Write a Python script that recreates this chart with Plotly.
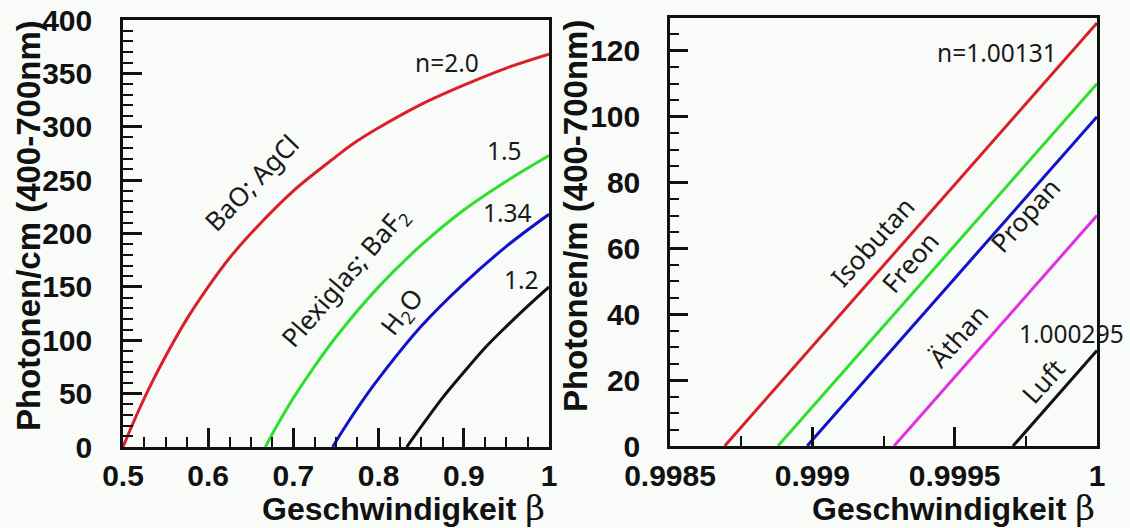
import plotly.graph_objects as go

W, H = 1130, 528

# ---- data ----
beta_n20 = [0.5, 0.51, 0.52, 0.53, 0.55, 0.575, 0.6, 0.625, 0.65, 0.7, 0.75, 0.77, 0.8, 0.85, 0.9, 0.95, 1.0]
phot_n20 = [0, 19, 37, 54, 85, 120, 150, 177, 200, 240, 272, 284, 299, 321, 339, 355, 368]

beta_n15 = [0.667, 0.68, 0.7, 0.72, 0.75, 0.8, 0.85, 0.9, 0.95, 1.0]
phot_n15 = [0, 19, 46, 70, 103, 150, 189, 222, 249, 273]

beta_n134 = [0.746, 0.76, 0.78, 0.8, 0.85, 0.9, 0.95, 1.0]
phot_n134 = [0, 18, 42, 64, 113, 153, 188, 218]

beta_n12 = [0.833, 0.85, 0.875, 0.9, 0.925, 0.95, 0.975, 1.0]
phot_n12 = [0, 19, 46, 70, 93, 113, 132, 150]

beta_iso = [0.998692, 0.999, 0.9995, 1.0]
phot_iso = [0, 30.3, 79.4, 128.5]
beta_freon = [0.998879, 0.999, 0.9995, 1.0]
phot_freon = [0, 11.8, 60.9, 110]
beta_propan = [0.998982, 0.999, 0.9995, 1.0]
phot_propan = [0, 1.8, 50.9, 100]
beta_athan = [0.999287, 0.9995, 0.99975, 1.0]
phot_athan = [0, 20.9, 45.5, 70]
beta_luft = [0.999705, 0.99985, 1.0]
phot_luft = [0, 14.2, 29]

left_yticks = [0, 50, 100, 150, 200, 250, 300, 350, 400]
left_xticks = [0.5, 0.6, 0.7, 0.8, 0.9, 1.0]
left_xticklabels = ["0.5", "0.6", "0.7", "0.8", "0.9", "1"]
right_yticks = [0, 20, 40, 60, 80, 100, 120]
right_xticks = [0.9985, 0.999, 0.9995, 1.0]
right_xticklabels = ["0.9985", "0.999", "0.9995", "1"]

RED, GREEN, BLUE, BLACK, MAG = "#d9202a", "#2ee02e", "#1212cc", "#111111", "#e030e0"
BG = "#f9fbf8"


def px(x):
    return x / W


def py(y):
    return 1 - y / H


fig = go.Figure()
for xs, ys, c in [(beta_n20, phot_n20, RED), (beta_n15, phot_n15, GREEN),
                  (beta_n134, phot_n134, BLUE), (beta_n12, phot_n12, BLACK)]:
    fig.add_trace(go.Scatter(x=xs, y=ys, mode="lines", line=dict(color=c, width=3, shape="spline"),
                             xaxis="x", yaxis="y", showlegend=False, hoverinfo="skip"))
for xs, ys, c in [(beta_iso, phot_iso, RED), (beta_freon, phot_freon, GREEN),
                  (beta_propan, phot_propan, BLUE), (beta_athan, phot_athan, MAG),
                  (beta_luft, phot_luft, BLACK)]:
    fig.add_trace(go.Scatter(x=xs, y=ys, mode="lines", line=dict(color=c, width=3),
                             xaxis="x2", yaxis="y2", showlegend=False, hoverinfo="skip"))

tickfont = dict(family="Liberation Sans, Arial, sans-serif", size=30, color="#111", weight="bold")
common = dict(showline=True, linecolor="#111", linewidth=2.5, mirror=True, showgrid=False,
              zeroline=False, ticks="inside", tickcolor="#111", tickwidth=2.5, tickfont=tickfont,
              automargin=False)

fig.update_layout(
    width=W, height=H, margin=dict(l=0, r=0, t=0, b=0, autoexpand=False),
    paper_bgcolor=BG, plot_bgcolor=BG,
    xaxis=dict(domain=[px(123), px(549)], range=[0.5, 1.0], tickvals=left_xticks,
               ticktext=left_xticklabels, ticklen=19, ticklabelstandoff=0,
               minor=dict(ticks="inside", dtick=0.025, ticklen=10, tickwidth=2, tickcolor="#111"),
               anchor="y", **common),
    yaxis=dict(domain=[py(447), py(20)], range=[0, 400], tickvals=left_yticks, ticklen=19,
               ticklabelstandoff=22,
               minor=dict(ticks="inside", dtick=10, ticklen=10, tickwidth=2, tickcolor="#111"),
               anchor="x", **common),
    xaxis2=dict(domain=[px(670), px(1097)], range=[0.9985, 1.0], tickvals=right_xticks,
                ticktext=right_xticklabels, ticklen=19, ticklabelstandoff=1,
                minor=dict(ticks="inside", dtick=0.00025, ticklen=10, tickwidth=2, tickcolor="#111"),
                anchor="y2", **common),
    yaxis2=dict(domain=[py(446), py(18)], range=[0, 130], tickvals=right_yticks, ticklen=18,
                ticklabelstandoff=21,
                minor=dict(ticks="inside", dtick=5, ticklen=9, tickwidth=2, tickcolor="#111"),
                anchor="x2", **common),
)

ytitlefont = dict(family="Liberation Sans, Arial, sans-serif", size=33, color="#111", weight="bold")
xtitlefont = dict(family="Liberation Sans, Arial, sans-serif", size=32, color="#111", weight="bold")
beta_span = "<span style='font-family:DejaVu Serif, serif;font-weight:normal;font-size:34px'>β</span>"
annots = [
    dict(x=px(29), y=py(226), text="Photonen/cm (400-700nm)", textangle=-90, font=ytitlefont),
    dict(x=px(575), y=py(216), text="Photonen/m (400-700nm)", textangle=-90, font=ytitlefont),
    dict(x=px(547), y=py(508), text="Geschwindigkeit " + beta_span, xanchor="right", font=xtitlefont),
    dict(x=px(1097), y=py(508), text="Geschwindigkeit " + beta_span, xanchor="right", font=xtitlefont),
]
hf = dict(family="Noto Sans, DejaVu Sans, sans-serif", size=24.5, color="#1a1a1a")
rf = dict(family="Noto Sans, DejaVu Sans, sans-serif", size=26, color="#1a1a1a")
labels = [
    ("n=2.0", 447, 62, 0, hf), ("1.5", 504, 150, 0, hf), ("1.34", 507, 213, 0, hf), ("1.2", 521, 279, 0, hf),
    ("BaO; AgCl", 251, 183, -46, rf), ("Plexiglas; BaF<sub>2</sub>", 345, 277, -49, rf),
    ("H<sub>2</sub>O", 402, 312, -52, rf),
    ("n=1.00131", 997, 53, 0, hf), ("1.000295", 1071, 333, 0, hf),
    ("Isobutan", 872, 242, -48, rf), ("Freon", 910, 262, -49, rf), ("Propan", 1025, 215, -48, rf),
    ("Äthan", 958, 336, -48, rf), ("Luft", 1043, 381, -48, rf),
]
for t, x, y, a, f in labels:
    annots.append(dict(x=px(x), y=py(y), text=t, textangle=a, font=f))
for a in annots:
    a.update(xref="paper", yref="paper", showarrow=False)
    a.setdefault("xanchor", "center")
    a.setdefault("yanchor", "middle")
fig.update_layout(annotations=annots)

fig.write_html("out.html", config={"displayModeBar": False},
               post_script="document.body.style.margin='0';document.body.style.overflow='hidden';")
